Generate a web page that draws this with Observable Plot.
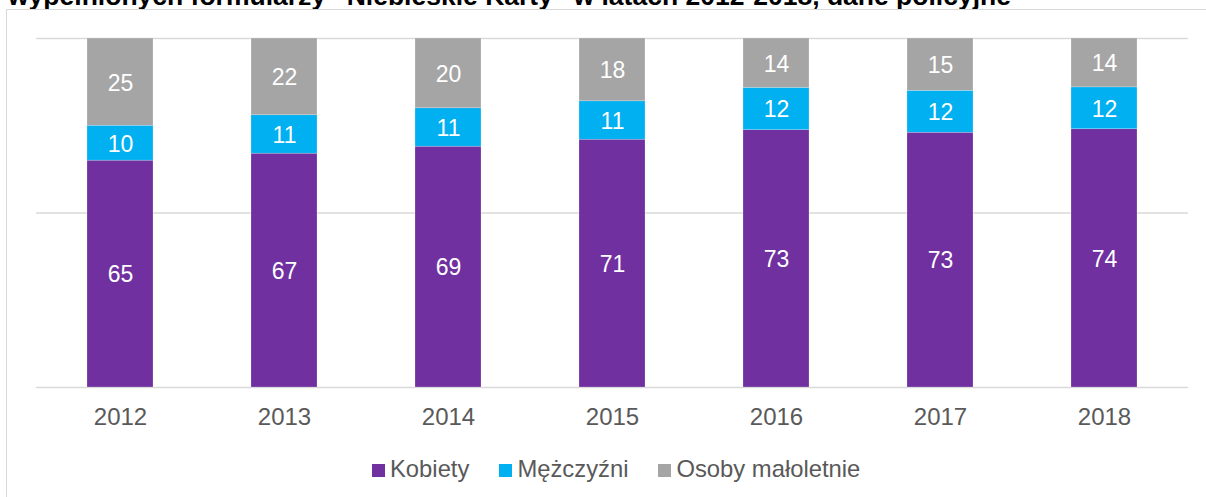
<!DOCTYPE html>
<html>
<head>
<meta charset="utf-8">
<script src="https://cdn.jsdelivr.net/npm/d3@7"></script>
<script src="https://cdn.jsdelivr.net/npm/@observablehq/plot@0.6"></script>
<style>
  html, body { margin: 0; padding: 0; background: #fff; }
  body { width: 1206px; height: 497px; overflow: hidden; position: relative; font-family: "Liberation Sans", Arial, sans-serif; }
  #title { position: absolute; left: 8px; top: -17.4px; font-size: 26.5px; line-height: 26.5px; font-weight: bold; color: #000; white-space: nowrap; z-index: 1; }
  #frame { position: absolute; left: 6px; top: 8.5px; width: 1300px; height: 600px; border: 1.5px solid #d9d9d9; background: #fff; z-index: 2; }
  #chart { position: absolute; left: 0; top: 0; z-index: 3; }
  #legend { position: absolute; left: 372px; top: 456px; z-index: 4; display: flex; align-items: center; font-size: 23.8px; color: #595959; white-space: nowrap; line-height: 26px; }
  .item { display: flex; align-items: center; margin-right: 30px; }
  .sw { width: 13px; height: 13px; margin-right: 5px; margin-top: 3px; }
</style>
</head>
<body>
<div id="title">wypełnionych formularzy “Niebieskie Karty” w latach 2012-2018, dane policyjne</div>
<div id="frame"></div>
<div id="chart"></div>
<div id="legend"></div>
<script>
const years = ["2012", "2013", "2014", "2015", "2016", "2017", "2018"];
const seriesNames = ["Kobiety", "Mężczyźni", "Osoby małoletnie"];
const kobiety = [65, 67, 69, 71, 73, 73, 74];
const mezczyzni = [10, 11, 11, 11, 12, 12, 12];
const maloletnie = [25, 22, 20, 18, 14, 15, 14];
const colors = ["#7030A0", "#00B0F0", "#A5A5A5"];
const gridValues = [0, 0.5, 1];

const seriesValues = [kobiety, mezczyzni, maloletnie];
const data = [];
seriesNames.forEach((s, si) => {
  years.forEach((y, yi) => data.push({year: y, series: s, value: seriesValues[si][yi]}));
});

const plot = Plot.plot({
  width: 1206,
  height: 440,
  marginTop: 38,
  marginBottom: 53,
  marginLeft: 36,
  marginRight: 18,
  style: {fontFamily: "Liberation Sans, Arial, sans-serif", background: "transparent"},
  x: {domain: years, paddingInner: 0.6, paddingOuter: 0.3, label: null},
  y: {domain: [0, 1], label: null},
  color: {domain: seriesNames, range: colors},
  marks: [
    Plot.ruleY(gridValues, {stroke: "#d9d9d9", strokeWidth: 1.5}),
    Plot.barY(data, Plot.stackY({offset: "normalize", order: null, x: "year", y: "value", z: "series", fill: "series", stroke: "#fff", strokeOpacity: 0.35, strokeWidth: 0.6})),
    Plot.text(data, Plot.stackY({offset: "normalize", order: null, x: "year", y: "value", z: "series", text: "value", fill: "#fff", fontSize: 23, dy: 1})),
    Plot.axisX({tickSize: 0, tickPadding: 20, fontSize: 24, color: "#595959", fill: "#595959", label: null}),
    Plot.axisY({ticks: [], label: null})
  ]
});
document.getElementById("chart").appendChild(plot);

const legend = document.getElementById("legend");
seriesNames.forEach((s, i) => {
  const it = document.createElement("div");
  it.className = "item";
  const sw = document.createElement("div");
  sw.className = "sw";
  sw.style.background = colors[i];
  const t = document.createElement("span");
  t.textContent = s;
  it.appendChild(sw);
  it.appendChild(t);
  legend.appendChild(it);
});
</script>
</body>
</html>
